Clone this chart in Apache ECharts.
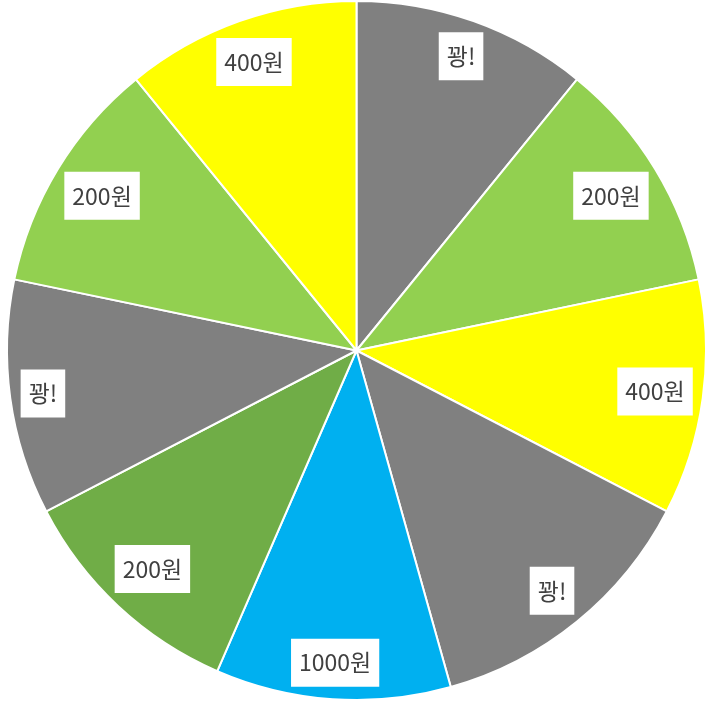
<!DOCTYPE html>
<html>
<head>
<meta charset="utf-8">
<script src="https://cdn.jsdelivr.net/npm/echarts@6/dist/echarts.min.js"></script>
<style>
html,body{margin:0;padding:0;background:#fff;}
#chart{width:709px;height:702px;}
</style>
</head>
<body>
<div id="chart"></div>
<script>
// Data
const categories = ['꽝!', '200원', '400원', '꽝!', '1000원', '200원', '꽝!', '200원', '400원'];
const values = [1, 1, 1, 1.2, 1, 1, 1, 1, 1];
const sliceColors = ['#808080', '#92D050', '#FFFF00', '#808080', '#00B0F0', '#70AD47', '#808080', '#92D050', '#FFFF00'];

// Layout
const CX = 356.5, CY = 350.5, R = 349.5, LABEL_CORNER_R = 342.5;

const total = values.reduce((a, b) => a + b, 0);
const cum = [];
values.reduce((acc, v, i) => { cum[i] = acc; return acc + v; }, 0);

const chart = echarts.init(document.getElementById('chart'), null, { renderer: 'canvas' });
chart.setOption({
  animation: false,
  series: [{
    type: 'pie',
    center: [CX, CY],
    radius: [0, R],
    startAngle: 90,
    clockwise: true,
    avoidLabelOverlap: false,
    silent: true,
    itemStyle: { borderColor: '#ffffff', borderWidth: 2 },
    label: {
      show: true,
      position: 'inside',
      formatter: '{b}',
      color: '#404040',
      fontSize: 23,
      lineHeight: 28,
      fontFamily: '"Noto Sans CJK KR", "Noto Sans", sans-serif',
      backgroundColor: '#ffffff',
      padding: [10, 8]
    },
    labelLine: { show: false },
    labelLayout: function (p) {
      const i = p.dataIndex;
      const theta = (cum[i] + values[i] / 2) / total * Math.PI * 2;
      const dx = Math.sin(theta), dy = -Math.cos(theta);
      const w = p.labelRect.width / 2, h = p.labelRect.height / 2;
      const b = Math.abs(dx) * w + Math.abs(dy) * h;
      const c = w * w + h * h - LABEL_CORNER_R * LABEL_CORNER_R;
      const d = -b + Math.sqrt(b * b - c);
      return { x: CX + d * dx, y: CY + d * dy, align: 'center', verticalAlign: 'middle' };
    },
    data: categories.map((name, i) => ({
      name: name,
      value: values[i],
      itemStyle: { color: sliceColors[i] }
    }))
  }]
});
</script>
</body>
</html>
